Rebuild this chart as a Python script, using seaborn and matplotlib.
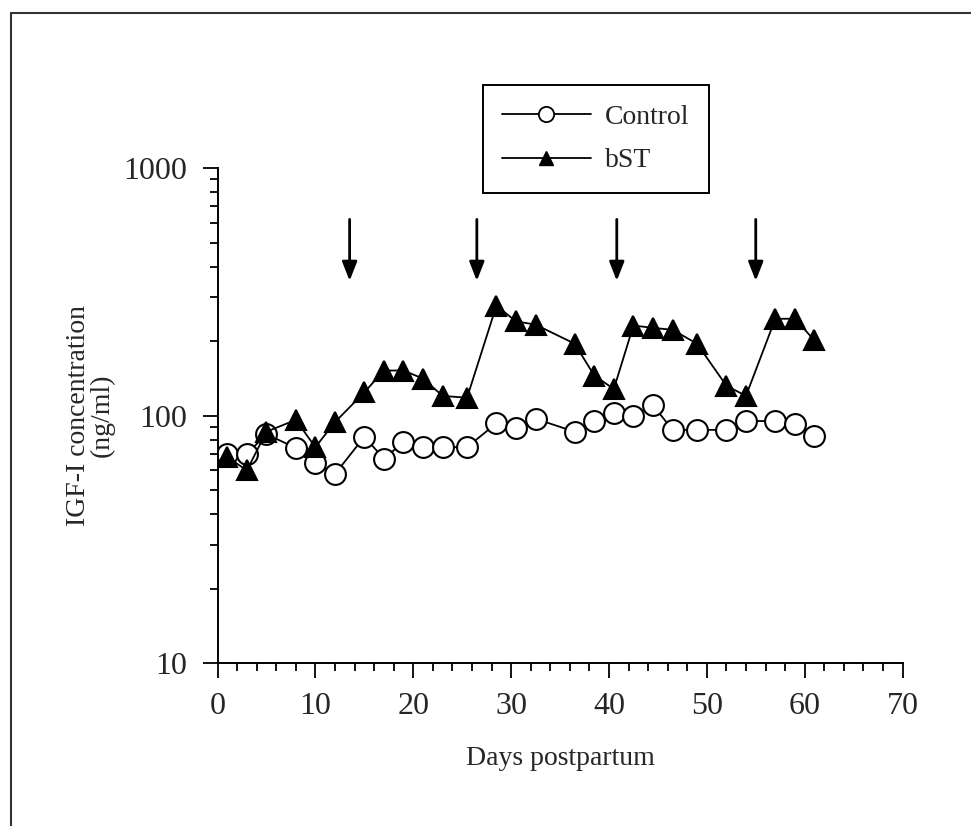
import matplotlib
matplotlib.use("Agg")
import matplotlib.pyplot as plt
from matplotlib.lines import Line2D
import matplotlib.ticker as mticker
import pandas as pd
import seaborn as sns

days = [1, 3, 5, 8, 10, 12, 15, 17, 19, 21, 23, 25.5, 28.5, 30.5, 32.5, 36.5,
        38.5, 40.5, 42.5, 44.5, 46.5, 49, 52, 54, 57, 59, 61]
control = [70, 70, 84, 74, 64, 58, 82, 67, 78, 74.5, 74.5, 74.5, 93, 89, 97, 86,
           95, 102, 100, 110, 87.5, 87.5, 87.5, 95, 95, 92, 83]
bst = [68, 60, 86, 96, 74.5, 94, 124, 152, 152, 141, 120, 118, 278, 240, 233, 195,
       145, 128, 231, 226, 222, 195, 132, 120, 246, 246, 201]
injection_days = [13.5, 26.5, 40.8, 55]

sns.set_style("ticks")
plt.rcParams['font.family'] = ['Liberation Serif', 'DejaVu Serif']

df = pd.DataFrame({'day': days + days,
                   'igf': control + bst,
                   'group': ['Control'] * len(days) + ['bST'] * len(days)})

fig = plt.figure(figsize=(9.71, 8.26), dpi=100)
ax = fig.add_axes([0.224, 0.1973, 0.7055, 0.5993])

sns.lineplot(data=df, x='day', y='igf', hue='group', style='group',
             palette=['black', 'black'], markers={'Control': 'o', 'bST': '^'},
             dashes=False, markersize=15, linewidth=1.3, legend=False, ax=ax)
for ln, fc in zip(ax.lines, ['white', 'black']):
    ln.set_markerfacecolor(fc)
    ln.set_markeredgecolor('black')
    ln.set_markeredgewidth(1.5)

ax.set_yscale('log')
ax.set_ylim(10, 1000)
ax.set_xlim(0, 70)
ax.xaxis.set_major_locator(mticker.MultipleLocator(10))
ax.xaxis.set_minor_locator(mticker.MultipleLocator(2))
ax.yaxis.set_major_formatter(mticker.FuncFormatter(lambda v, p: f"{v:g}"))
ax.yaxis.set_minor_formatter(mticker.NullFormatter())
ax.tick_params(axis='both', which='major', labelsize=23, length=11, width=1.3, color='black')
ax.tick_params(axis='both', which='minor', length=6, width=1.3, color='black')
ax.tick_params(axis='x', pad=10)
ax.tick_params(axis='y', pad=11)
sns.despine(ax=ax)
for s in ['left', 'bottom']:
    ax.spines[s].set_linewidth(1.4)
    ax.spines[s].set_color('black')

ax.set_xlabel('Days postpartum', fontsize=20, labelpad=18)
ax.set_ylabel('IGF-I concentration\n(ng/ml)', fontsize=20, labelpad=6, linespacing=0.9)

for d in injection_days:
    ax.annotate('', xy=(d, 350), xytext=(d, 620),
                arrowprops=dict(arrowstyle='-|>,head_length=1.15,head_width=0.45',
                                color='black', lw=2, shrinkA=0, shrinkB=0))

handles = [Line2D([0], [0], color='black', lw=1.3, marker='o', markersize=11,
                  markerfacecolor='white', markeredgecolor='black', markeredgewidth=1.3),
           Line2D([0], [0], color='black', lw=1.3, marker='^', markersize=10,
                  markerfacecolor='black', markeredgecolor='black')]
leg = fig.legend(handles, ['Control', 'bST'], loc='upper left',
                 bbox_to_anchor=(0.497, 0.897), fontsize=20, frameon=True,
                 fancybox=False, edgecolor='black', framealpha=1,
                 handlelength=3.2, handletextpad=0.5, labelspacing=0.65,
                 borderpad=0.7, borderaxespad=0)
leg.get_frame().set_linewidth(1.4)

# scanned page frame (top and left edges only)
fig.add_artist(Line2D([0.0113, 1.0], [0.984, 0.984], color='#333333', lw=1.5))
fig.add_artist(Line2D([0.0113, 0.0113], [0.0, 0.984], color='#333333', lw=1.5))

plt.savefig('out.png', dpi=100)
